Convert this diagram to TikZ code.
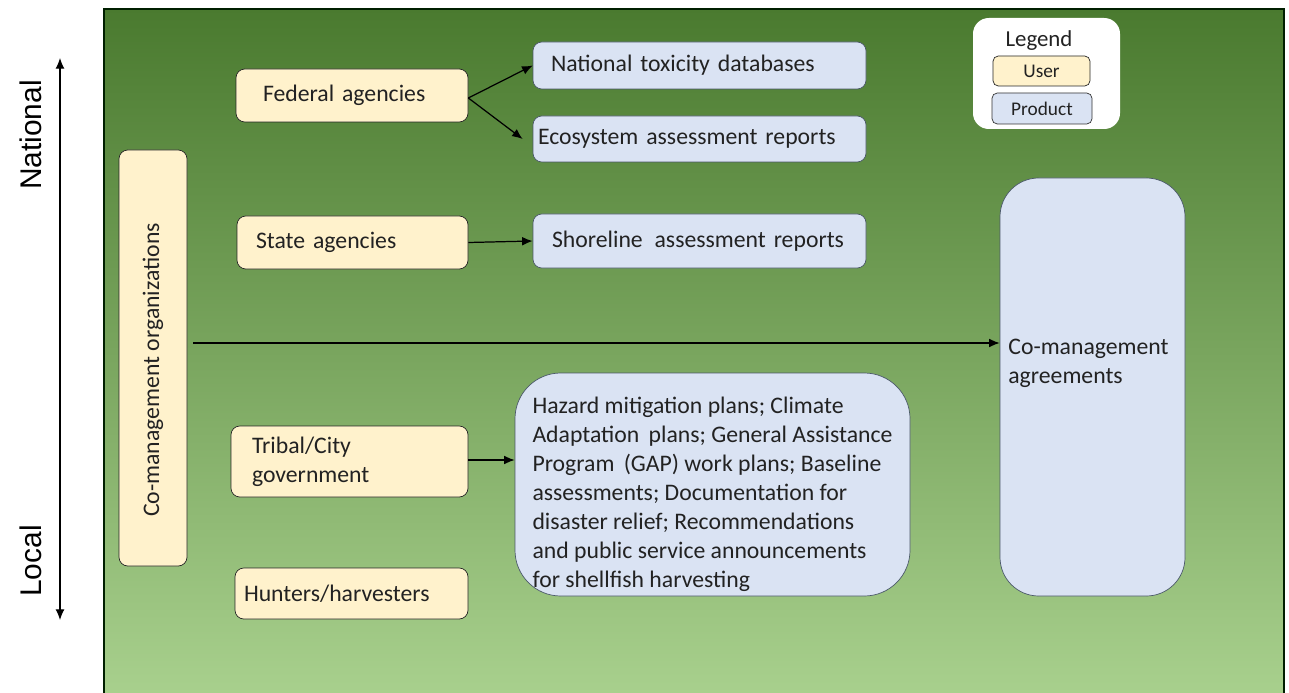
\documentclass[tikz,border=0pt]{standalone}
\usepackage{fontspec}
\setmainfont{Carlito}
\newfontfamily\axisfont{Liberation Sans}
\usetikzlibrary{arrows.meta}

\definecolor{usercol}{HTML}{FFF2CC}
\definecolor{prodcol}{HTML}{DAE3F3}
\definecolor{prodline}{HTML}{4A5868}
\definecolor{greentop}{HTML}{4A7A2F}
\definecolor{greenmid}{HTML}{70AC46}
\definecolor{greenbot}{HTML}{A8D08D}
\definecolor{inkcol}{HTML}{222222}

\tikzset{
  userbox/.style={draw=black!85, fill=usercol, rounded corners=5pt, align=left,
    inner ysep=0pt, text=inkcol, font=\fontsize{13.5}{16.5}\selectfont},
  prodbox/.style={draw=prodline, fill=prodcol, rounded corners=5pt, align=left,
    inner ysep=0pt, text=inkcol, font=\fontsize{13.5}{16.5}\selectfont},
  link/.style={-{Latex[length=6pt,width=5pt]}, line width=0.7pt, black}
}

\begin{document}
\begin{tikzpicture}
  \useasboundingbox (0,0) rectangle (25.78,-13.86);

  % green panel
  \shade[top color=greentop, middle color=greenmid, bottom color=greenbot]
    (2.08,-13.86) rectangle (25.68,-0.18);
  \draw[draw=black!70!green!40!black, line width=0.8pt]
    (2.08,-13.86) -- (2.08,-0.18) -- (25.68,-0.18) -- (25.68,-13.86);

  % scale axis
  \coordinate (natl) at (1.2,-1.16);
  \coordinate (locl) at (1.2,-12.4);
  \draw[{Latex[length=6pt,width=5pt]}-{Latex[length=6pt,width=5pt]}, line width=0.6pt] (natl) -- (locl);
  \node[rotate=90, font=\axisfont\fontsize{17}{20}\selectfont] (lblnat) at (0.62,-2.7) {National};
  \node[rotate=90, font=\axisfont\fontsize{17}{20}\selectfont] (lblloc) at (0.62,-11.22) {Local};

  % users
  \node[userbox, rotate=90, minimum width=8.32cm, minimum height=1.36cm, align=center]
    (orgs) at (3.06,-7.16) {Co-management organizations\hspace*{0.48cm}};
  \node[userbox, minimum height=1.06cm, inner xsep=0.54cm, text width=3.56cm]
    (fed) at (7.04,-1.91) {Federal agencies};
  \node[userbox, minimum height=1.06cm, inner xsep=0.38cm, text width=3.86cm]
    (state) at (7.05,-4.85) {State agencies};
  \node[userbox, minimum height=1.42cm, inner xsep=0.42cm, text width=3.9cm]
    (tribal) at (6.99,-9.23) {Tribal/City\\government};
  \node[userbox, minimum height=1.02cm, inner xsep=0.18cm, text width=4.3cm]
    (hunters) at (7.03,-11.87) {Hunters/harvesters};

  % products
  \node[prodbox, minimum height=0.94cm, inner xsep=0.36cm, text width=5.94cm]
    (ntd) at (13.99,-1.31) {National toxicity databases};
  \node[prodbox, minimum height=0.92cm, inner xsep=0.1cm, text width=6.46cm]
    (eco) at (13.99,-2.78) {Ecosystem assessment reports};
  \node[prodbox, minimum height=1.08cm, inner xsep=0.38cm, text width=5.9cm]
    (shore) at (13.99,-4.82) {Shoreline\, assessment reports};
  \node[prodbox, rounded corners=26pt, minimum width=7.9cm, minimum height=4.46cm]
    (plans) at (14.25,-9.69) {\rule{0pt}{0.73cm}Hazard mitigation plans; Climate\\
      Adaptation\, plans; General Assistance\\
      Program\, (GAP) work plans; Baseline\\
      assessments; Documentation for\\
      disaster relief; Recommendations\\
      and public service announcements\\
      for shellfish harvesting};
  \node[prodbox, rounded corners=22pt, minimum width=3.7cm, minimum height=8.36cm]
    (agr) at (21.85,-7.74) {};
  \node[anchor=west, align=left, inner sep=0pt, text=inkcol, font=\fontsize{13.5}{16.5}\selectfont]
    (agrtext) at (20.16,-7.26) {Co-management\\agreements};

  % legend
  \node[fill=white, rounded corners=9pt, minimum width=2.94cm, minimum height=2.22cm]
    (legend) at (20.93,-1.47) {};
  \node[text=inkcol, font=\fontsize{13}{15}\selectfont] (legtitle) at (20.78,-0.82) {Legend};
  \node[userbox, align=center, rounded corners=3pt, minimum width=1.94cm, minimum height=0.6cm,
    font=\fontsize{11}{13}\selectfont] (leguser) at (20.83,-1.42) {User};
  \node[prodbox, align=center, draw=black!80, rounded corners=3pt, minimum width=2cm, minimum height=0.62cm,
    font=\fontsize{11}{13}\selectfont] (legprod) at (20.84,-2.17) {Product};

  % connectors
  \draw[link] ([yshift=-0.05cm]fed.east) -- (ntd.west);
  \draw[link] ([yshift=-0.05cm]fed.east) -- ([xshift=-0.2cm]eco.west);
  \draw[link] (state.east) -- (shore.west);
  \draw[link] ([yshift=0.03cm]tribal.east) -- ([yshift=0.03cm]tribal.east -| plans.west);
  \coordinate (tie) at (3.86,-6.86);
  \draw[link] (tie) -- (tie -| agr.west);
\end{tikzpicture}
\end{document}
